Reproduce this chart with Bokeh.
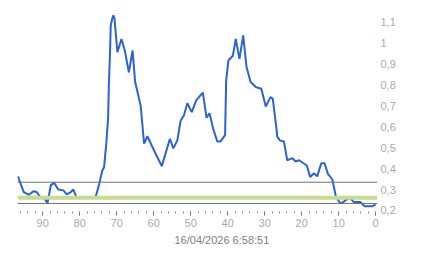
from bokeh.plotting import figure
from bokeh.models import Range1d, LinearAxis, FixedTicker, CustomJSTickFormatter, Span, Title
from bokeh.embed import file_html
from bokeh.resources import INLINE

# data (x = minutes ago, reversed axis)
xs = [96.7, 95.1, 93.7, 92.5, 91.6, 90.7, 89.6, 88.7, 87.8, 86.9, 85.8, 84.4, 83.5, 82.4, 81.7,
      80.8, 75.7, 74.8, 73.9, 73.4, 72.8, 72.3, 72.1, 71.8, 71.6, 71.2, 70.9, 70.6, 69.8, 68.7,
      67.8, 66.7, 65.7, 65.0, 63.5, 62.6, 61.7, 59.9, 57.8, 55.6, 54.7, 53.6, 52.7, 51.8, 50.9,
      49.7, 48.5, 46.7, 45.7, 44.9, 43.9, 42.8, 41.9, 40.7, 40.4, 39.8, 38.6, 37.8, 37.4, 36.8,
      35.8, 34.9, 33.8, 32.4, 30.9, 29.7, 28.4, 27.8, 26.8, 26.6, 25.9, 24.8, 23.9, 22.5, 21.6,
      20.7, 18.6, 17.7, 16.7, 15.8, 14.7, 13.8, 12.9, 11.7, 10.8, 9.7, 9.0, 7.8, 6.9, 5.9,
      4.1, 3.0, 0.9, 0.0]
ys = [0.363, 0.288, 0.275, 0.292, 0.288, 0.264, 0.260, 0.235, 0.320, 0.333, 0.300, 0.296, 0.277, 0.288, 0.300,
      0.260, 0.264, 0.320, 0.390, 0.407, 0.520, 0.646, 0.806, 0.950, 1.085, 1.117, 1.133, 1.120, 0.957, 1.020,
      0.965, 0.860, 0.965, 0.814, 0.700, 0.520, 0.555, 0.487, 0.412, 0.543, 0.497, 0.535, 0.630, 0.655, 0.713,
      0.670, 0.726, 0.763, 0.643, 0.665, 0.590, 0.530, 0.530, 0.560, 0.822, 0.917, 0.940, 1.020, 0.980, 0.925,
      1.037, 0.886, 0.814, 0.790, 0.782, 0.697, 0.742, 0.734, 0.590, 0.554, 0.535, 0.530, 0.440, 0.450, 0.434,
      0.440, 0.415, 0.360, 0.378, 0.363, 0.426, 0.426, 0.375, 0.348, 0.270, 0.237, 0.237, 0.253, 0.259, 0.240,
      0.240, 0.220, 0.220, 0.229]
ref_gray = [0.335, 0.2335]
ref_green = [0.261]
y_ticks = [0.2, 0.3, 0.4, 0.5, 0.6, 0.7, 0.8, 0.9, 1.0, 1.1]
x_ticks = [0, 10, 20, 30, 40, 50, 60, 70, 80, 90]
x_minor = list(range(0, 97, 2))
timestamp = "16/04/2026 6:58:51"

FONT = "Liberation Sans"

p = figure(width=443, height=258, output_backend="svg", toolbar_location=None,
           x_range=Range1d(96.8, -0.5), y_range=Range1d(0.195, 1.204),
           x_axis_location=None, y_axis_location=None,
           min_border_left=17, min_border_right=66, min_border_top=0, min_border_bottom=47)
p.outline_line_color = None
p.xgrid.visible = False
p.ygrid.visible = False
p.background_fill_color = "white"
p.border_fill_color = "white"

for v in ref_green:
    p.add_layout(Span(location=v, dimension="width", line_color="#c6dd8d", line_width=4))
for v in ref_gray:
    p.add_layout(Span(location=v, dimension="width", line_color="#6f6f6f", line_width=1))

p.line(xs, ys, line_color="#2b62d8", line_width=2)

fmt = CustomJSTickFormatter(code="return (Math.round(tick*10)/10).toString().replace('.', ',');")

yaxis = LinearAxis(ticker=FixedTicker(ticks=y_ticks), formatter=fmt)
yaxis.axis_line_color = None
yaxis.major_tick_line_color = None
yaxis.minor_tick_line_color = None
yaxis.major_tick_in = 0
yaxis.major_tick_out = 0
yaxis.minor_tick_in = 0
yaxis.minor_tick_out = 0
yaxis.major_label_standoff = 3
yaxis.major_label_text_color = "#aaaaaa"
yaxis.major_label_text_font = FONT
yaxis.major_label_text_font_size = "11px"
p.add_layout(yaxis, "right")

xaxis = LinearAxis(ticker=FixedTicker(ticks=x_ticks, minor_ticks=x_minor))
xaxis.axis_line_color = None
xaxis.major_tick_line_color = "#666666"
xaxis.minor_tick_line_color = "#888888"
xaxis.major_tick_in = 0
xaxis.major_tick_out = 4
xaxis.minor_tick_in = 0
xaxis.minor_tick_out = 2
xaxis.major_label_standoff = 3
xaxis.major_label_text_color = "#aaaaaa"
xaxis.major_label_text_font = FONT
xaxis.major_label_text_font_size = "11px"
p.add_layout(xaxis, "below")

t = Title(text=timestamp, align="left", offset=157, text_color="#808080",
          text_font=FONT, text_font_size="11px", text_font_style="normal",
          standoff=4)
p.add_layout(t, "below")

open("out.html", "w").write(file_html(p, INLINE))
